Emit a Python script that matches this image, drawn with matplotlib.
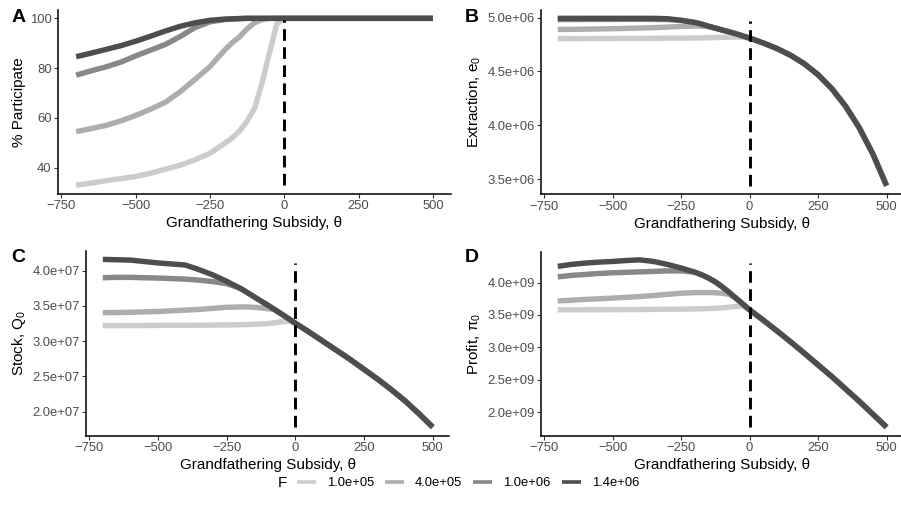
import matplotlib
matplotlib.use("Agg")
import matplotlib.pyplot as plt
from matplotlib.lines import Line2D
from matplotlib.ticker import FuncFormatter

plt.rcParams["font.family"] = ["Liberation Sans", "DejaVu Sans"]
plt.rcParams["mathtext.fontset"] = "custom"
plt.rcParams["mathtext.rm"] = "Liberation Sans"
plt.rcParams["mathtext.it"] = "Liberation Sans:italic"
plt.rcParams["mathtext.default"] = "regular"

# subsidy grid (theta): below zero the F groups differ, above zero they coincide
theta_left = [-700, -650, -600, -550, -500, -450, -400, -350, -300, -250,
              -200, -175, -150, -125, -100, -75, -50, -25, 0]
theta_right = [50, 100, 150, 200, 250, 300, 350, 400, 450, 500]
theta = theta_left + theta_right

f_labels = ["1.0e+05", "4.0e+05", "1.0e+06", "1.4e+06"]
f_colors = ["#CCCCCC", "#ADADAD", "#888888", "#4D4D4D"]

# % participate
part_right = [100] * 10
part_f1 = [33.0, 33.8, 34.8, 35.6, 36.5, 37.8, 39.4, 41.0, 43.2, 45.8,
           49.8, 52.0, 54.8, 58.7, 63.8, 74.0, 86.0, 97.8, 100]
part_f2 = [54.5, 55.7, 57.0, 58.8, 61.0, 63.5, 66.3, 70.5, 75.5, 80.6,
           87.3, 90.2, 92.6, 95.8, 98.2, 99.5, 100, 100, 100]
part_f3 = [77.2, 78.9, 80.5, 82.4, 84.9, 87.2, 89.5, 92.7, 96.3, 98.6,
           99.5, 99.7, 99.9, 100, 100, 100, 100, 100, 100]
part_f4 = [84.6, 86.0, 87.5, 89.0, 90.8, 92.8, 94.9, 96.8, 98.2, 99.2,
           99.7, 99.8, 99.9, 100, 100, 100, 100, 100, 100]

# extraction e0
ext_right = [4.764e6, 4.713e6, 4.65e6, 4.571e6, 4.47e6, 4.341e6, 4.179e6,
             3.979e6, 3.734e6, 3.44e6]
ext_f1 = [4.805e6, 4.805e6, 4.805e6, 4.806e6, 4.806e6, 4.807e6, 4.807e6,
          4.808e6, 4.809e6, 4.81e6, 4.811e6, 4.812e6, 4.813e6, 4.815e6,
          4.816e6, 4.818e6, 4.82e6, 4.818e6, 4.81e6]
ext_f2 = [4.89e6, 4.891e6, 4.893e6, 4.895e6, 4.897e6, 4.9e6, 4.903e6,
          4.907e6, 4.912e6, 4.918e6, 4.922e6, 4.921e6, 4.915e6, 4.9e6,
          4.885e6, 4.868e6, 4.85e6, 4.83e6, 4.81e6]
ext_f3 = [4.982e6, 4.982e6, 4.983e6, 4.983e6, 4.983e6, 4.984e6, 4.984e6,
          4.983e6, 4.982e6, 4.975e6, 4.955e6, 4.94e6, 4.92e6, 4.903e6,
          4.885e6, 4.868e6, 4.85e6, 4.83e6, 4.81e6]
ext_f4 = [4.993e6, 4.993e6, 4.993e6, 4.993e6, 4.993e6, 4.993e6, 4.993e6,
          4.993e6, 4.99e6, 4.975e6, 4.955e6, 4.94e6, 4.92e6, 4.903e6,
          4.885e6, 4.868e6, 4.85e6, 4.83e6, 4.81e6]

# stock Q0
stock_right = [3.13e7, 3.0e7, 2.87e7, 2.74e7, 2.6e7, 2.46e7, 2.31e7,
               2.15e7, 1.97e7, 1.78e7]
stock_f1 = [3.22e7, 3.22e7, 3.221e7, 3.222e7, 3.223e7, 3.224e7, 3.225e7,
            3.226e7, 3.228e7, 3.23e7, 3.233e7, 3.235e7, 3.238e7, 3.243e7,
            3.25e7, 3.26e7, 3.275e7, 3.285e7, 3.255e7]
stock_f2 = [3.405e7, 3.405e7, 3.41e7, 3.415e7, 3.42e7, 3.43e7, 3.44e7,
            3.45e7, 3.465e7, 3.48e7, 3.485e7, 3.485e7, 3.48e7, 3.472e7,
            3.46e7, 3.448e7, 3.385e7, 3.32e7, 3.255e7]
stock_f3 = [3.9e7, 3.905e7, 3.905e7, 3.9e7, 3.895e7, 3.888e7, 3.88e7,
            3.865e7, 3.845e7, 3.815e7, 3.75e7, 3.69e7, 3.63e7, 3.57e7,
            3.51e7, 3.448e7, 3.385e7, 3.32e7, 3.255e7]
stock_f4 = [4.16e7, 4.155e7, 4.15e7, 4.13e7, 4.11e7, 4.095e7, 4.08e7,
            4.015e7, 3.94e7, 3.85e7, 3.75e7, 3.69e7, 3.63e7, 3.57e7,
            3.51e7, 3.448e7, 3.385e7, 3.32e7, 3.255e7]

# profit pi0
profit_right = [3.42e9, 3.255e9, 3.085e9, 2.91e9, 2.73e9, 2.55e9, 2.36e9,
                2.17e9, 1.97e9, 1.77e9]
profit_f1 = [3.58e9, 3.58e9, 3.58e9, 3.581e9, 3.582e9, 3.583e9, 3.584e9,
             3.586e9, 3.588e9, 3.59e9, 3.593e9, 3.595e9, 3.598e9, 3.603e9,
             3.61e9, 3.62e9, 3.632e9, 3.635e9, 3.58e9]
profit_f2 = [3.717e9, 3.727e9, 3.74e9, 3.75e9, 3.76e9, 3.772e9, 3.785e9,
             3.8e9, 3.818e9, 3.835e9, 3.845e9, 3.846e9, 3.846e9, 3.843e9,
             3.835e9, 3.82e9, 3.76e9, 3.67e9, 3.58e9]
profit_f3 = [4.088e9, 4.11e9, 4.125e9, 4.14e9, 4.15e9, 4.158e9, 4.165e9,
             4.172e9, 4.18e9, 4.18e9, 4.16e9, 4.12e9, 4.07e9, 4.01e9,
             3.935e9, 3.85e9, 3.76e9, 3.67e9, 3.58e9]
profit_f4 = [4.25e9, 4.28e9, 4.3e9, 4.315e9, 4.325e9, 4.34e9, 4.35e9,
             4.325e9, 4.28e9, 4.225e9, 4.16e9, 4.12e9, 4.07e9, 4.01e9,
             3.935e9, 3.85e9, 3.76e9, 3.67e9, 3.58e9]

W, H = 901, 520
fig = plt.figure(figsize=(W / 100, H / 100), dpi=100)


def px_axes(x0, y0, x1, y1):
    return fig.add_axes([x0 / W, 1 - y1 / H, (x1 - x0) / W, (y1 - y0) / H])


def sci(v, pos):
    return f"{v:.1e}"


panels = [
    ("A", px_axes(58.3, 10, 450.7, 193.5),
     [part_f1, part_f2, part_f3, part_f4], part_right,
     "% Participate", [40, 60, 80, 100], None, (0.046, 0.945)),
    ("B", px_axes(541.3, 10, 903, 194),
     [ext_f1, ext_f2, ext_f3, ext_f4], ext_right,
     r"Extraction, $e_0$", [3.5e6, 4.0e6, 4.5e6, 5.0e6], sci, (0.046, 0.94)),
    ("C", px_axes(86.3, 251, 449.2, 435.5),
     [stock_f1, stock_f2, stock_f3, stock_f4], stock_right,
     r"Stock, $Q_0$", [2.0e7, 2.5e7, 3.0e7, 3.5e7, 4.0e7], sci, (0.045, 0.935)),
    ("D", px_axes(541.3, 251.5, 903, 435.5),
     [profit_f1, profit_f2, profit_f3, profit_f4], profit_right,
     r"Profit, $\pi_0$", [2.0e9, 2.5e9, 3.0e9, 3.5e9, 4.0e9], sci, (0.045, 0.935)),
]

for tag, ax, series, right, ylab, yticks, fmt, vspan in panels:
    for vals, col in zip(series, f_colors):
        ax.plot(theta, vals + right, color=col, lw=3.9, solid_capstyle="butt",
                solid_joinstyle="round")
    ax.axvline(0, ymin=vspan[0], ymax=vspan[1], color="black", lw=2.1,
               dashes=(4, 2.2))
    ax.margins(x=0.05, y=0.05)
    ax.set_xticks([-750, -500, -250, 0, 250, 500])
    ax.set_yticks(yticks)
    if fmt is not None:
        ax.yaxis.set_major_formatter(FuncFormatter(fmt))
    ax.set_xlabel("Grandfathering Subsidy, θ", fontsize=11, labelpad=3)
    ax.set_ylabel(ylab, fontsize=11, labelpad=3)
    for side in ["top", "right"]:
        ax.spines[side].set_visible(False)
    for side in ["left", "bottom"]:
        ax.spines[side].set_linewidth(1.1)
        ax.spines[side].set_color("black")
    ax.tick_params(axis="both", direction="out", length=2.8, width=0.8,
                   color="#333333", labelcolor="#4D4D4D", labelsize=9.4, pad=2)
    ax.patch.set_alpha(0)

for tag, x, y in [("A", 19, 18), ("B", 472, 18), ("C", 18.5, 258), ("D", 472, 258)]:
    fig.text(x / W, 1 - y / H, tag, fontsize=14, fontweight="bold",
             ha="center", va="center")

handles = [Line2D([], [], color=c, lw=2.6, solid_capstyle="butt") for c in f_colors]
fig.text(282 / W, 1 - 483 / H, "F", fontsize=11, ha="center", va="center")
fig.legend(handles, f_labels, loc="center", bbox_to_anchor=(468 / W, 1 - 483 / H),
           ncol=4, frameon=False, fontsize=9.4, handlelength=1.45,
           handletextpad=0.85, columnspacing=0.85, borderpad=0,
           labelcolor="black")

fig.savefig("out.png", dpi=100)
